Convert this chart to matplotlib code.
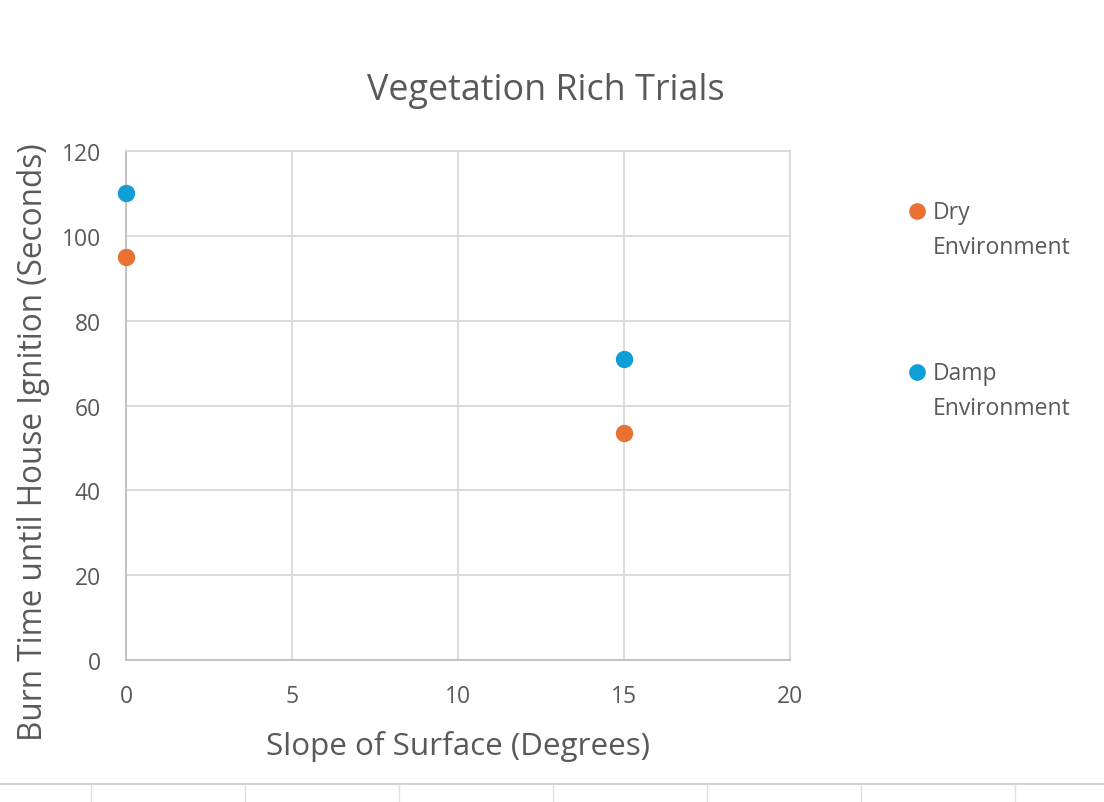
import matplotlib.pyplot as plt
from matplotlib.lines import Line2D

plt.rcParams['font.family'] = ['Open Sans', 'DejaVu Sans']

# data
slope = [0, 15]
dry = [95, 53.5]
damp = [110, 71]
series = ['Dry\nEnvironment', 'Damp\nEnvironment']
orange = '#E97132'
blue = '#0F9ED5'
txt = '#595959'
grid = '#D9D9D9'

fig = plt.figure(figsize=(11.04, 8.03), dpi=100)
ax = fig.add_axes([126/1104, 1-661/803, (790-126)/1104, (661-152)/803])

ax.plot(slope, dry, 'o', color=orange, ms=11.5, clip_on=False, zorder=3)
ax.plot(slope, damp, 'o', color=blue, ms=11.5, clip_on=False, zorder=3)

ax.set_xlim(0, 20)
ax.set_ylim(0, 120)
ax.set_xticks([0, 5, 10, 15, 20])
ax.set_yticks(range(0, 121, 20))
ax.grid(True, color=grid, lw=1.3)
ax.set_axisbelow(True)
for s in ax.spines.values():
    s.set_color(grid)
    s.set_linewidth(1.3)
ax.spines['left'].set_color('#BFBFBF')
ax.spines['bottom'].set_color('#BFBFBF')
ax.tick_params(length=0, labelsize=16.5, colors=txt)
ax.tick_params(axis='y', pad=18)
ax.tick_params(axis='x', pad=17)
ax.set_xlabel('Slope of Surface (Degrees)', fontsize=22.6, color=txt, labelpad=16)
ax.set_ylabel('Burn Time until House Ignition (Seconds)', fontsize=22.7, color=txt)
ax.yaxis.set_label_coords(-0.114, 0.43)

fig.text(546/1104, 1-91/803, 'Vegetation Rich Trials', fontsize=25.8, color=txt,
         ha='center', va='center')

# legend drawn by hand so marker sits on first line
for (y, c, lab) in [(212, orange, series[0]), (373, blue, series[1])]:
    fig.add_artist(Line2D([917/1104], [1-y/803], marker='o', color=c, ms=11,
                          transform=fig.transFigure))
    fig.text(933/1104, 1-(y-11)/803, lab, fontsize=16.5, color=txt, va='top',
             linespacing=1.6)

# spreadsheet cell lines below the chart
fig.add_artist(Line2D([0, 1], [1-785/803]*2, color='#D4D4D4', lw=1.5,
                      transform=fig.transFigure))
for x in [91, 245, 399, 553, 707, 861, 1015]:
    fig.add_artist(Line2D([x/1104]*2, [0, 1-786/803], color='#E0E0E0', lw=1,
                          transform=fig.transFigure))

fig.savefig('out.png', dpi=100)
